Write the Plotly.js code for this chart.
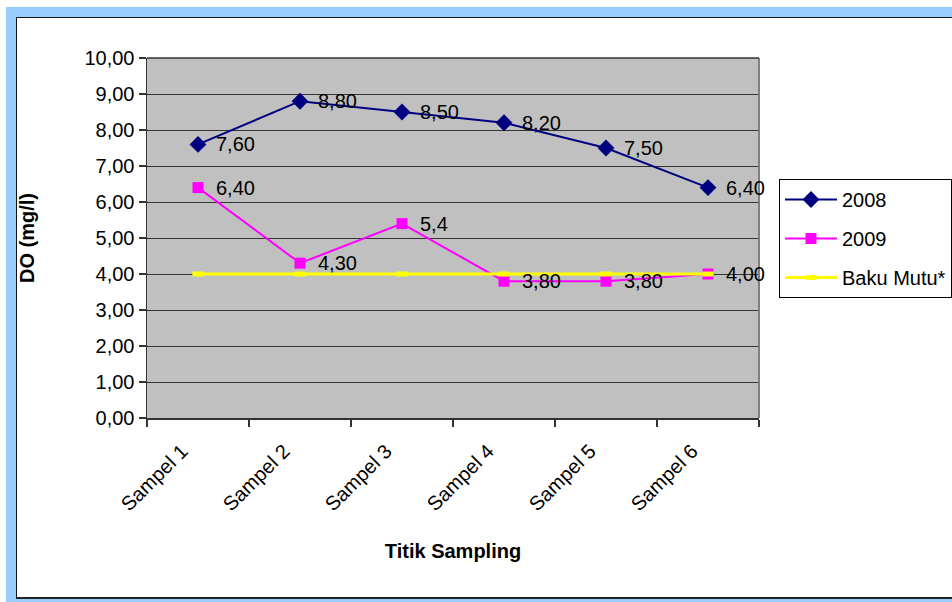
<!DOCTYPE html>
<html>
<head>
<meta charset="utf-8">
<script src="https://cdn.plot.ly/plotly-3.0.1.min.js"></script>
<style>
  html, body { margin: 0; padding: 0; background: #ffffff; }
  #frame { position: absolute; left: 6px; top: 7px; width: 946px; height: 595px; background: #99ccff; }
  #panel { position: absolute; left: 16px; top: 17px; width: 940px; height: 579px; background: #ffffff;
           border-left: 1.5px solid #111; border-top: 1.5px solid #111; border-bottom: 2px solid #222; }
  #chart { position: absolute; left: 0; top: 0; width: 952px; height: 602px; }
</style>
</head>
<body>
<div id="frame"></div>
<div id="panel"></div>
<div id="chart"></div>
<script>
// Dissolved oxygen per sampling point
const categories = ['Sampel 1', 'Sampel 2', 'Sampel 3', 'Sampel 4', 'Sampel 5', 'Sampel 6'];
const do2008 = [7.6, 8.8, 8.5, 8.2, 7.5, 6.4];
const do2009 = [6.4, 4.3, 5.4, 3.8, 3.8, 4.0];
const bakuMutu = [4, 4, 4, 4, 4, 4];
// decimals shown in each point label
const decimals2008 = [2, 2, 2, 2, 2, 2];
const decimals2009 = [2, 2, 1, 2, 2, 2];

const FONT = 'Liberation Sans, Arial, sans-serif';
const FS = 20;

function fmt(v, d) { return v.toFixed(d).replace('.', ','); }

const traces = [
  {
    x: categories, y: do2008, name: '2008', type: 'scatter', mode: 'lines+markers',
    line: { color: '#000080', width: 2 },
    marker: { symbol: 'diamond', size: 13, color: '#000080' },
    legendgroup: 'a'
  },
  {
    x: categories, y: do2009, name: '2009', type: 'scatter', mode: 'lines+markers',
    line: { color: '#ff00ff', width: 2 },
    marker: { symbol: 'square', size: 11, color: '#ff00ff' },
    legendgroup: 'b'
  },
  {
    x: categories, y: bakuMutu, name: 'Baku Mutu*', type: 'scatter', mode: 'lines+markers',
    line: { color: '#ffff00', width: 3 },
    marker: { symbol: 'line-ew', size: 8, line: { color: '#ffff00', width: 5 } },
    legendgroup: 'c'
  }
];

const annotations = [];
function addLabels(vals, decs) {
  vals.forEach((v, i) => {
    annotations.push({
      x: categories[i], y: v, xref: 'x', yref: 'y', text: fmt(v, decs[i]),
      showarrow: false, xanchor: 'left', yanchor: 'middle', xshift: 16,
      font: { family: FONT, size: FS, color: '#000' }
    });
  });
}
addLabels(do2008, decimals2008);
addLabels(do2009, decimals2009);

const layout = {
  width: 952, height: 602,
  margin: { l: 147, r: 193, t: 58, b: 184, autoexpand: false },
  paper_bgcolor: 'rgba(0,0,0,0)',
  plot_bgcolor: '#c0c0c0',
  separators: ',.',
  font: { family: FONT, size: FS, color: '#000' },
  showlegend: true,
  legend: {
    xref: 'container', yref: 'container',
    x: 779 / 952, y: 1 - 179 / 602, xanchor: 'left', yanchor: 'top',
    bgcolor: '#ffffff', bordercolor: '#000', borderwidth: 1,
    font: { family: FONT, size: FS, color: '#000' },
    traceorder: 'grouped', tracegroupgap: 10, itemwidth: 52
  },
  xaxis: {
    type: 'category', range: [-0.5, 5.5], tickson: 'boundaries',
    showgrid: false, zeroline: false,
    showline: true, linecolor: '#333', linewidth: 1.5,
    ticks: 'outside', ticklen: 7, tickcolor: '#333', tickwidth: 1.5,
    tickangle: -45, tickfont: { family: FONT, size: FS, color: '#000' },
    ticklabelstandoff: 12, ticklabelshift: -16,
    title: { text: 'Titik Sampling', font: { family: FONT, size: FS, weight: 'bold', color: '#000' }, standoff: 30 },
    fixedrange: true
  },
  yaxis: {
    range: [0, 10], dtick: 1, tickformat: '.2f',
    showgrid: true, gridcolor: '#333', gridwidth: 1, zeroline: false,
    showline: true, linecolor: '#333', linewidth: 1.5,
    ticks: 'outside', ticklen: 7, tickcolor: '#333', tickwidth: 1.5,
    tickfont: { family: FONT, size: FS, color: '#000' },
    title: { text: 'DO (mg/l)', font: { family: FONT, size: FS, weight: 'bold', color: '#000' }, standoff: 44 },
    fixedrange: true
  },
  shapes: [
    { type: 'line', xref: 'paper', yref: 'paper', x0: 1, x1: 1, y0: 0, y1: 1, line: { color: '#808080', width: 2 } },
    { type: 'line', xref: 'paper', yref: 'paper', x0: 0, x1: 1, y0: 1, y1: 1, line: { color: '#333', width: 1.5 } }
  ],
  annotations: annotations
};

Plotly.newPlot('chart', traces, layout, { displayModeBar: false, staticPlot: true });
</script>
</body>
</html>
